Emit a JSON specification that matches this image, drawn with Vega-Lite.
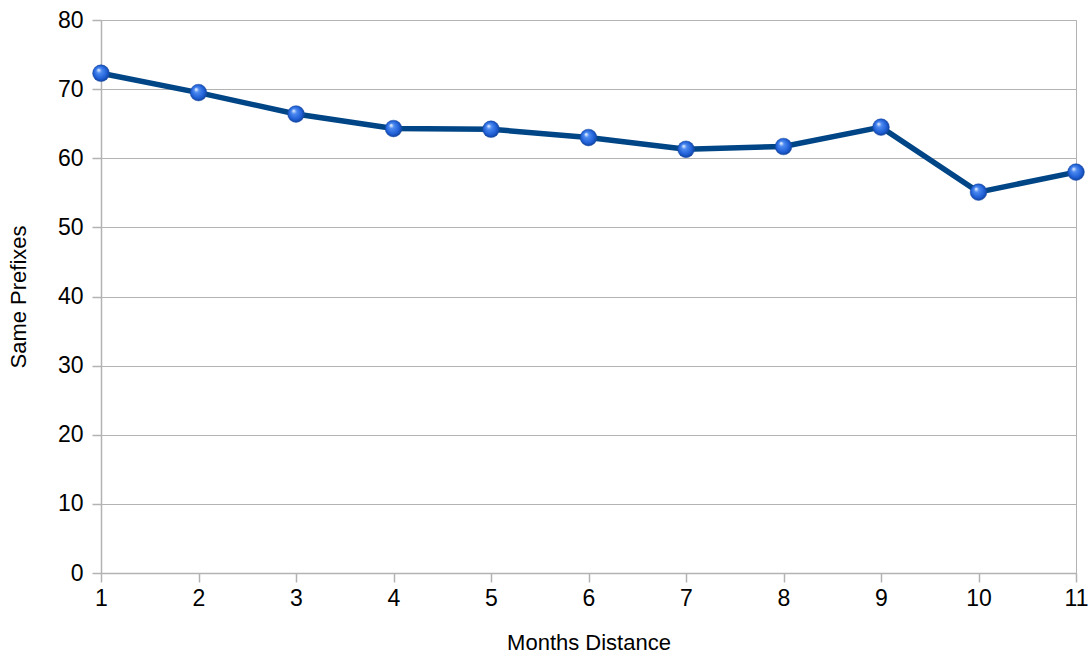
{
  "$schema": "https://vega.github.io/schema/vega-lite/v6.json",
  "width": 975,
  "height": 553,
  "autosize": {"type": "none"},
  "padding": {"left": 101, "top": 20, "right": 14, "bottom": 82},
  "background": "white",
  "config": {
    "view": {"stroke": "#b3b3b3", "strokeWidth": 1},
    "font": "Liberation Sans",
    "axis": {
      "labelFont": "Liberation Sans",
      "titleFont": "Liberation Sans",
      "labelColor": "#000000",
      "titleColor": "#000000",
      "labelFontSize": 23,
      "titleFontSize": 22,
      "titleFontWeight": "normal",
      "domainColor": "#b3b3b3",
      "tickColor": "#b3b3b3",
      "gridColor": "#b3b3b3",
      "tickSize": 9,
      "domainWidth": 1.5,
      "tickWidth": 1.5
    }
  },
  "data": {
    "values": [
      {"month": 1, "value": 72.3},
      {"month": 2, "value": 69.5},
      {"month": 3, "value": 66.4},
      {"month": 4, "value": 64.3},
      {"month": 5, "value": 64.2},
      {"month": 6, "value": 63.0},
      {"month": 7, "value": 61.3},
      {"month": 8, "value": 61.7},
      {"month": 9, "value": 64.5},
      {"month": 10, "value": 55.1},
      {"month": 11, "value": 58.0}
    ]
  },
  "encoding": {
    "x": {
      "field": "month",
      "type": "quantitative",
      "scale": {"domain": [1, 11], "nice": false, "zero": false},
      "axis": {
        "values": [1, 2, 3, 4, 5, 6, 7, 8, 9, 10, 11],
        "grid": false,
        "title": "Months Distance",
        "labelPadding": 5,
        "titlePadding": 22,
        "labelFlush": false
      }
    },
    "y": {
      "field": "value",
      "type": "quantitative",
      "scale": {"domain": [0, 80], "nice": false},
      "axis": {
        "values": [0, 10, 20, 30, 40, 50, 60, 70, 80],
        "grid": true,
        "title": "Same Prefixes",
        "labelPadding": 9,
        "titlePadding": 27
      }
    }
  },
  "layer": [
    {
      "mark": {"type": "line", "color": "#004586", "strokeWidth": 5.5}
    },
    {
      "mark": {
        "type": "point",
        "filled": true,
        "size": 280,
        "opacity": 1,
        "stroke": "#1a4fa8",
        "strokeWidth": 0.5,
        "fill": {
          "gradient": "radial",
          "x1": 0.35, "y1": 0.3, "r1": 0.02,
          "x2": 0.5, "y2": 0.5, "r2": 0.55,
          "stops": [
            {"offset": 0, "color": "#e6f0ff"},
            {"offset": 0.25, "color": "#4d8af0"},
            {"offset": 0.7, "color": "#1f5fd6"},
            {"offset": 1, "color": "#0d3a8c"}
          ]
        }
      }
    }
  ]
}
